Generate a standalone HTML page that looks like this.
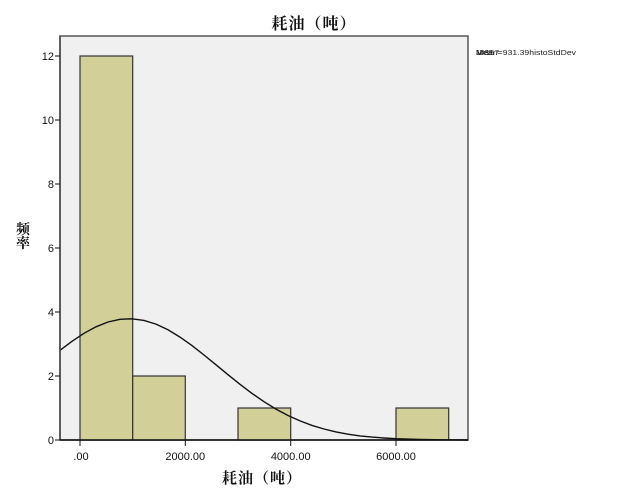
<!DOCTYPE html>
<html>
<head>
<meta charset="utf-8">
<style>
  html, body { margin:0; padding:0; background:#ffffff; }
  svg { display:block; }
  .cjk { font-family: "Liberation Serif", "Noto Serif CJK SC", "Noto Sans CJK SC", serif; }
  .lat { font-family: "Liberation Sans", Arial, sans-serif; }
</style>
</head>
<body>
<svg width="626" height="501" viewBox="0 0 626 501" xmlns="http://www.w3.org/2000/svg">
  <rect x="0" y="0" width="626" height="501" fill="#ffffff"/>

  <!-- Title -->
  <text x="314" y="29" text-anchor="middle" class="cjk" font-size="16" font-weight="bold" fill="#111" letter-spacing="1">耗油（吨）</text>

  <!-- Plot area -->
  <rect x="60" y="36" width="408" height="404" fill="#f0f0f0" stroke="#555" stroke-width="1.5"/>

  <!-- Bars -->
  <g fill="#d3cf98" stroke="#333" stroke-width="1.2">
    <rect x="80" y="56" width="52.7" height="384"/>
    <rect x="132.7" y="376" width="52.6" height="64"/>
    <rect x="238" y="408" width="52.7" height="32"/>
    <rect x="396" y="408" width="52.7" height="32"/>
  </g>

  <!-- Normal curve -->
  <polyline fill="none" stroke="#111" stroke-width="1.4" points="
    60,350.3 72,341.3 84,333.3 96,326.8 108,322.0 120,319.3 132,318.8 144,320.4
    156,324.1 168,329.8 180,337.1 192,345.6 204,355.0 216,364.8 228,374.7 240,384.3
    252,393.4 264,401.7 276,409.1 288,415.5 300,420.9 312,425.4 324,429.0 336,431.9
    348,434.2 360,435.9 372,437.1 384,438.0 396,438.7 420,439.4 444,439.8 468,440"/>

  <!-- Axes -->
  <line x1="60" y1="36" x2="60" y2="440" stroke="#444" stroke-width="1.5"/>
  <line x1="60" y1="440" x2="468" y2="440" stroke="#111" stroke-width="1.5"/>

  <!-- Y ticks -->
  <g stroke="#111" stroke-width="1">
    <line x1="55" y1="440" x2="60" y2="440"/>
    <line x1="55" y1="376" x2="60" y2="376"/>
    <line x1="55" y1="312" x2="60" y2="312"/>
    <line x1="55" y1="248" x2="60" y2="248"/>
    <line x1="55" y1="184" x2="60" y2="184"/>
    <line x1="55" y1="120" x2="60" y2="120"/>
    <line x1="55" y1="56" x2="60" y2="56"/>
  </g>
  <g class="lat" font-size="11" fill="#111" text-anchor="end">
    <text x="54" y="444">0</text>
    <text x="54" y="380">2</text>
    <text x="54" y="316">4</text>
    <text x="54" y="252">6</text>
    <text x="54" y="188">8</text>
    <text x="54" y="124">10</text>
    <text x="54" y="60">12</text>
  </g>

  <!-- X ticks -->
  <g stroke="#111" stroke-width="1">
    <line x1="80" y1="440" x2="80" y2="446"/>
    <line x1="185.3" y1="440" x2="185.3" y2="446"/>
    <line x1="290.7" y1="440" x2="290.7" y2="446"/>
    <line x1="396" y1="440" x2="396" y2="446"/>
  </g>
  <g class="lat" font-size="11" fill="#111" text-anchor="middle">
    <text x="81" y="460">.00</text>
    <text x="185.3" y="460">2000.00</text>
    <text x="290.7" y="460">4000.00</text>
    <text x="396" y="460">6000.00</text>
  </g>

  <!-- Axis labels -->
  <text x="262" y="483" text-anchor="middle" class="cjk" font-size="15" font-weight="bold" fill="#111" letter-spacing="1">耗油（吨）</text>
  <text x="23" y="234" text-anchor="middle" class="cjk" font-size="14" font-weight="bold" fill="#111">频</text>
  <text x="23" y="248" text-anchor="middle" class="cjk" font-size="14" font-weight="bold" fill="#111">率</text>

  <!-- Legend text (overlapping, as in reference) -->
  <g class="lat" font-size="7.5" fill="#222">
    <text x="476" y="55" textLength="100" lengthAdjust="spacingAndGlyphs">Mean=931.39histoStdDev</text>
    <text x="476" y="55">N=16</text>
    <text x="476" y="55">1689.7</text>
  </g>
</svg>
</body>
</html>
